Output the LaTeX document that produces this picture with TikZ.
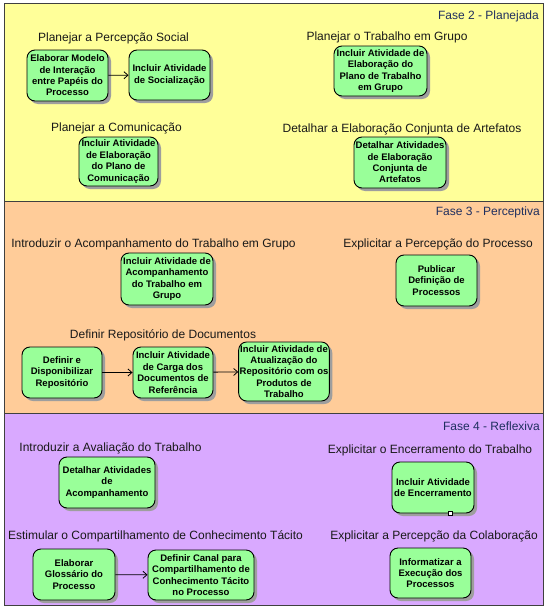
\documentclass[tikz,border=0pt]{standalone}
\usepackage{fontspec}
\setmainfont{Liberation Sans}
\usetikzlibrary{arrows.meta,shadows}
\definecolor{fyellow}{HTML}{FFFF99}
\definecolor{forange}{HTML}{FFCC99}
\definecolor{fpurple}{HTML}{D9A9FF}
\definecolor{agreen}{HTML}{99FF99}
\definecolor{fasetxt}{HTML}{1F2F5F}
\tikzset{
  act/.style={draw=black, line width=0.9pt, fill=agreen, rounded corners=8pt,
    align=center, inner sep=1pt, font=\bfseries\fontsize{9.5}{11.4}\selectfont,
    drop shadow={shadow xshift=3pt, shadow yshift=-3pt, fill=black!38, opacity=1}},
  grp/.style={font=\fontsize{12}{14}\selectfont, text=black!90, inner sep=0pt},
  fase/.style={font=\fontsize{12}{14}\selectfont, text=fasetxt, inner sep=0pt, anchor=east},
  flow/.style={draw=black, line width=0.8pt, -{Straight Barb[length=4pt,width=7pt]}},
  panel/.style={draw=black!75, line width=1pt}
}
\begin{document}
\begin{tikzpicture}[x=1pt,y=-1pt]
\useasboundingbox (0,0) rectangle (548,608);
% panels
\path[panel, fill=fyellow] (4,3) rectangle (543,201);
\path[panel, fill=forange] (4,201) rectangle (543,413);
\path[panel, fill=fpurple] (4,413) rectangle (543,605);

% Fase 2
\node[fase] (f2) at (539,16) {Fase 2 - Planejada};
\node[grp] (g1) at (113.5,38) {Planejar a Percepção Social};
\node[act, minimum width=81pt, minimum height=51pt] (a) at (67.5,75.5) {Elaborar Modelo\\de Interação\\entre Papéis do\\Processo};
\node[act, minimum width=81pt, minimum height=50pt] (b) at (169.5,75) {Incluir Atividade\\de Socialização};
\draw[flow] (a) -- (b);
\node[grp] (g2) at (116.5,128) {Planejar a Comunicação};
\node[act, minimum width=79pt, minimum height=49pt] (c) at (118.5,161.5) {Incluir Atividade\\de Elaboração\\do Plano de\\Comunicação};
\node[grp] (g3) at (387,37) {Planejar o Trabalho em Grupo};
\node[act, minimum width=93pt, minimum height=50pt] (d) at (380.5,71) {Incluir Atividade de\\Elaboração do\\Plano de Trabalho\\em Grupo};
\node[grp] (g4) at (402,129) {Detalhar a Elaboração Conjunta de Artefatos};
\node[act, minimum width=92pt, minimum height=51pt] (e) at (400,162.5) {Detalhar Atividades\\de Elaboração\\Conjunta de\\Artefatos};

% Fase 3
\node[fase] (f3) at (540,212) {Fase 3 - Perceptiva};
\node[grp] (g5) at (153.5,244) {Introduzir o Acompanhamento do Trabalho em Grupo};
\node[act, minimum width=92pt, minimum height=52pt] (f) at (167,279) {Incluir Atividade de\\Acompanhamento\\do Trabalho em\\Grupo};
\node[grp] (g6) at (438,244) {Explicitar a Percepção do Processo};
\node[act, minimum width=81pt, minimum height=51pt] (g) at (436.5,280.5) {Publicar\\Definição de\\Processos};
\node[grp] (g7) at (163,335) {Definir Repositório de Documentos};
\node[act, minimum width=80pt, minimum height=51pt] (h) at (62,372.5) {Definir e\\Disponibilizar\\Repositório};
\node[act, minimum width=80pt, minimum height=51pt] (i) at (173,372.5) {Incluir Atividade\\de Carga dos\\Documentos de\\Referência};
\node[act, minimum width=90pt, minimum height=59pt] (j) at (284,371.5) {Incluir Atividade de\\Atualização do\\Repositório com os\\Produtos de\\Trabalho};
\draw[flow] (h) -- (i);
\draw[flow] (i) -- (j);

% Fase 4
\node[fase] (f4) at (540,426) {Fase 4 - Reflexiva};
\node[grp] (g8) at (110.5,448) {Introduzir a Avaliação do Trabalho};
\node[act, minimum width=96pt, minimum height=51pt] (k) at (107,482.5) {Detalhar Atividades\\de\\Acompanhamento};
\node[grp] (g9) at (430,450) {Explicitar o Encerramento do Trabalho};
\node[act, minimum width=82pt, minimum height=51pt] (l) at (433,487.5) {Incluir Atividade\\de Encerramento};
\node[draw=black, fill=white, line width=0.6pt, minimum size=4pt, inner sep=0pt] (lh) at (450,513) {};
\node[grp] (g10) at (155.5,536) {Estimular o Compartilhamento de Conhecimento Tácito};
\node[act, minimum width=82pt, minimum height=51pt] (m) at (74,574.5) {Elaborar\\Glossário do\\Processo};
\node[act, minimum width=106pt, minimum height=50pt] (n) at (201,575) {Definir Canal para\\Compartilhamento de\\Conhecimento Tácito\\no Processo};
\draw[flow] (m) -- (n);
\node[grp] (g11) at (434,536) {Explicitar a Percepção da Colaboração};
\node[act, minimum width=81pt, minimum height=50pt] (o) at (430.5,573) {Informatizar a\\Execução dos\\Processos};
\end{tikzpicture}
\end{document}
